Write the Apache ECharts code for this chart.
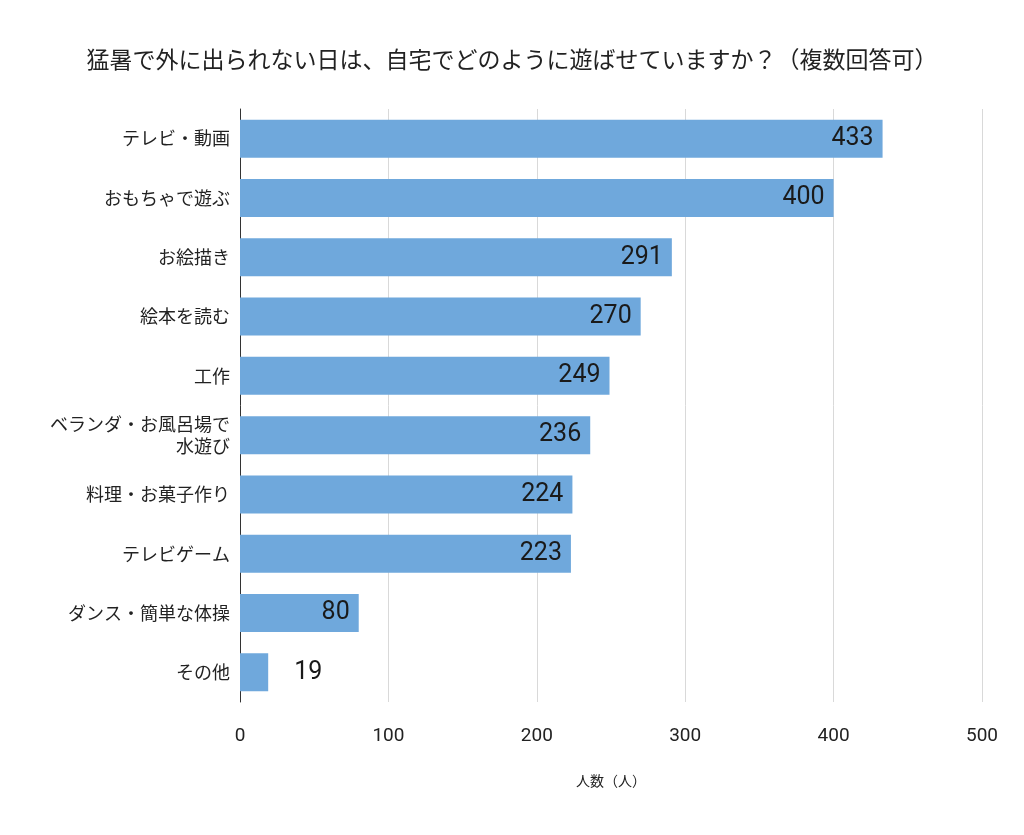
<!DOCTYPE html>
<html>
<head>
<meta charset="utf-8">
<script src="https://cdn.jsdelivr.net/npm/echarts@6/dist/echarts.min.js"></script>
<style>
    html, body { margin: 0; padding: 0; background: #fff; }
    #chart { width: 1024px; height: 835px; }
</style>
</head>
<body>
<div id="chart"></div>
<script>
    // 項目（上から順）
    const categories = [
        'テレビ・動画',
        'おもちゃで遊ぶ',
        'お絵描き',
        '絵本を読む',
        '工作',
        'ベランダ・お風呂場で\n水遊び',
        '料理・お菓子作り',
        'テレビゲーム',
        'ダンス・簡単な体操',
        'その他'
    ];
    const counts = [433, 400, 291, 270, 249, 236, 224, 223, 80, 19];
    const xTicks = [0, 100, 200, 300, 400, 500];

    const jpFont = '"Noto Sans CJK JP", "Noto Sans", sans-serif';

    let chart = echarts.init(document.getElementById('chart'));

    let option = {
        animation: false,
        backgroundColor: '#fff',
        title: {
            text: '猛暑で外に出られない日は、自宅でどのように遊ばせていますか？（複数回答可）',
            left: 'center',
            top: 43,
            textStyle: {
                fontFamily: jpFont,
                fontSize: 23,
                fontWeight: 'normal',
                color: '#222'
            }
        },
        grid: {
            left: 240,
            right: 42,
            top: 109,
            bottom: 133
        },
        xAxis: {
            type: 'value',
            min: xTicks[0],
            max: xTicks[xTicks.length - 1],
            interval: 100,
            name: '人数（人）',
            nameLocation: 'middle',
            nameGap: 72,
            nameTextStyle: {
                fontFamily: jpFont,
                fontSize: 14,
                color: '#222'
            },
            axisLine: { show: false },
            axisTick: { show: false },
            axisLabel: {
                margin: 25,
                fontFamily: 'Roboto, sans-serif',
                fontSize: 19,
                color: '#222'
            },
            splitLine: {
                lineStyle: { color: '#d9d9d9', width: 1 }
            }
        },
        yAxis: {
            type: 'category',
            inverse: true,
            data: categories,
            axisLine: { lineStyle: { color: '#333', width: 1 } },
            axisTick: { show: false },
            axisLabel: {
                margin: 10,
                fontFamily: jpFont,
                fontSize: 18,
                color: '#222',
                lineHeight: 22,
                align: 'right'
            }
        },
        series: [{
            type: 'bar',
            data: counts.map(function (v) {
                // 短い棒はラベルを外側に
                if (v < 50) {
                    return { value: v, label: { position: 'right', distance: 26 } };
                }
                return v;
            }),
            barWidth: 38,
            itemStyle: { color: '#6fa8dc' },
            label: {
                show: true,
                position: 'insideRight',
                distance: 9,
                fontFamily: 'Roboto, sans-serif',
                fontSize: 25,
                color: '#1a1a1a'
            }
        }]
    };

    chart.setOption(option);
</script>
</body>
</html>
